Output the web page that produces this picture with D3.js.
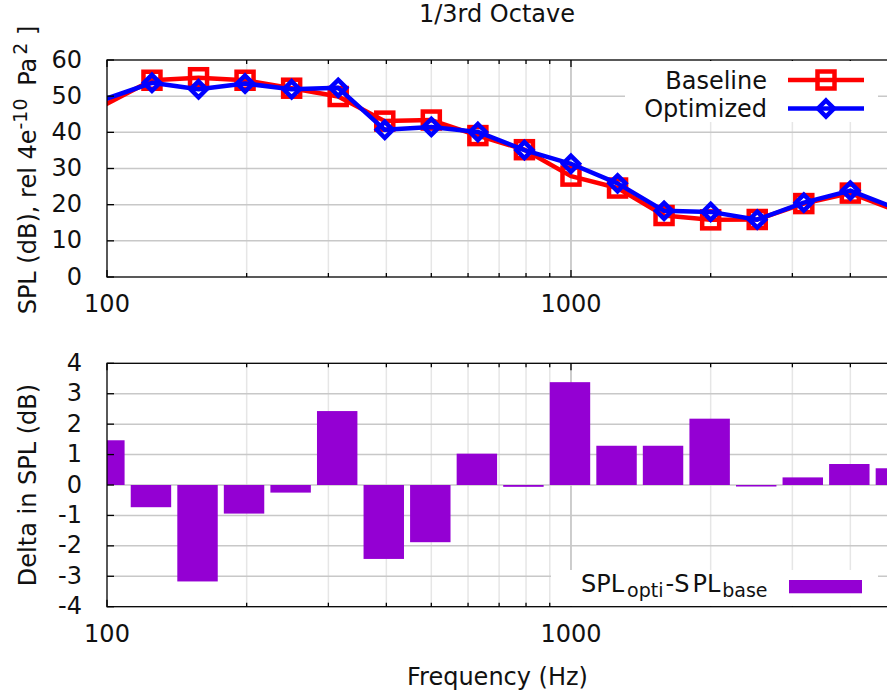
<!DOCTYPE html>
<html>
<head>
<meta charset="utf-8">
<script src="https://cdn.jsdelivr.net/npm/d3@7"></script>
<style>
  html, body { margin: 0; padding: 0; background: #fff; }
  svg { display: block; font-family: "DejaVu Sans", sans-serif; }
</style>
</head>
<body>
<svg id="chart" width="887" height="694"></svg>
<script>
// 1/3-octave band centre frequencies (Hz)
const bandCentres = [99.2, 125, 157.5, 198.4, 250, 315, 396.9, 500, 630, 793.7,
                     1000, 1260, 1587, 2000, 2520, 3175, 4000, 5040];
// Band SPL (dB) for the two configurations
const splBaseline  = [47.7, 54.4, 55.1, 54.4, 52.2, 49.9, 43.1, 43.4, 39.1, 35.2,
                      27.9, 24.6, 17.0, 15.8, 15.9, 20.3, 23.2, 18.3];
const splOptimized = [49.2, 53.7, 51.9, 53.5, 51.9, 52.3, 40.7, 41.5, 40.1, 35.1,
                      31.3, 25.9, 18.3, 18.0, 15.85, 20.55, 23.9, 18.85];
// Difference optimized - baseline (dB)
const splDelta = [1.47, -0.73, -3.17, -0.94, -0.25, 2.43, -2.43, -1.88, 1.03, -0.06,
                  3.38, 1.29, 1.29, 2.18, -0.05, 0.25, 0.69, 0.55];

const freqLabelTicks = [100, 1000];
const freqMinorTicks = [200, 300, 400, 500, 600, 700, 800, 900, 2000, 3000, 4000];
const splTicks = [0, 10, 20, 30, 40, 50, 60];
const deltaTicks = [-4, -3, -2, -1, 0, 1, 2, 3, 4];

const seriesNames = ["Baseline", "Optimized"];
const seriesColors = ["#ff0000", "#0000ff"];
const barColor = "#9400d3";

const svg = d3.select("#chart");
const FONT = 24, SUB = 19;

const x = d3.scaleLog().domain([100, 5000]).range([107, 895.3]);
const yTop = d3.scaleLinear().domain([0, 60]).range([277, 60]);
const yBot = d3.scaleLinear().domain([-4, 4]).range([606.7, 363.3]);

const x0 = x.range()[0], x1 = x.range()[1];

function panelFrame(g, y, ticks, id) {
  const yTopPx = y.range()[1], yBotPx = y.range()[0];
  // grid
  g.append("g").selectAll("line").data(freqMinorTicks).join("line")
    .attr("x1", d => x(d)).attr("x2", d => x(d))
    .attr("y1", yTopPx).attr("y2", yBotPx)
    .attr("stroke", "#e6e6e6").attr("stroke-width", 1.5);
  g.append("g").selectAll("line").data(freqLabelTicks.filter(d => d > 100)).join("line")
    .attr("x1", d => x(d)).attr("x2", d => x(d))
    .attr("y1", yTopPx).attr("y2", yBotPx)
    .attr("stroke", "#bdbdbd").attr("stroke-width", 1.5);
  g.append("g").selectAll("line").data(ticks.slice(1, -1)).join("line")
    .attr("x1", x0).attr("x2", x1)
    .attr("y1", d => y(d)).attr("y2", d => y(d))
    .attr("stroke", "#c8c8c8").attr("stroke-width", 1.5);
  g.append("clipPath").attr("id", id).append("rect")
    .attr("x", x0).attr("y", yTopPx).attr("width", x1 - x0).attr("height", yBotPx - yTopPx);
}

function panelAxes(g, y, ticks) {
  const yTopPx = y.range()[1], yBotPx = y.range()[0];
  const tk = g.append("g").attr("stroke", "#000").attr("stroke-width", 1.3);
  // y ticks (inward, left)
  tk.selectAll(".yt").data(ticks).join("line")
    .attr("x1", x0).attr("x2", x0 + 7).attr("y1", d => y(d)).attr("y2", d => y(d));
  // x minor ticks bottom & top
  freqMinorTicks.forEach(f => {
    tk.append("line").attr("x1", x(f)).attr("x2", x(f)).attr("y1", yBotPx).attr("y2", yBotPx - 4);
    tk.append("line").attr("x1", x(f)).attr("x2", x(f)).attr("y1", yTopPx).attr("y2", yTopPx + 4);
  });
  freqLabelTicks.forEach(f => {
    tk.append("line").attr("x1", x(f)).attr("x2", x(f)).attr("y1", yBotPx).attr("y2", yBotPx - 7);
    tk.append("line").attr("x1", x(f)).attr("x2", x(f)).attr("y1", yTopPx).attr("y2", yTopPx + 7);
  });
  // border
  g.append("rect").attr("x", x0).attr("y", yTopPx).attr("width", x1 - x0)
    .attr("height", yBotPx - yTopPx).attr("fill", "none")
    .attr("stroke", "#000").attr("stroke-width", 1.3);
  // tick labels
  g.append("g").selectAll("text").data(ticks).join("text")
    .attr("x", 82).attr("y", d => y(d) + 7.5)
    .attr("text-anchor", "end").attr("font-size", FONT).attr("fill", "#111")
    .text(d => d);
  g.append("g").selectAll("text").data(freqLabelTicks).join("text")
    .attr("x", d => x(d)).attr("y", yBotPx + 35)
    .attr("text-anchor", "middle").attr("font-size", FONT).attr("fill", "#111")
    .text(d => d);
}

function marker(sel, kind, color) {
  if (kind === 0) {
    sel.append("rect").attr("x", -8.5).attr("y", -8.5).attr("width", 17).attr("height", 17)
      .attr("fill", "none").attr("stroke", color).attr("stroke-width", 4.5);
  } else {
    sel.append("path").attr("d", "M0,-8L8,0L0,8L-8,0Z")
      .attr("fill", "none").attr("stroke", color).attr("stroke-width", 4.5)
      .attr("stroke-linejoin", "miter");
  }
}

// ---------- upper panel: band SPL ----------
const upper = svg.append("g");
panelFrame(upper, yTop, splTicks, "clipTop");
const seriesData = [splBaseline, splOptimized].map(vals =>
  bandCentres.map((f, i) => ({ f, v: vals[i] })));
const line = d3.line().x(d => x(d.f)).y(d => yTop(d.v));
const plotTop = upper.append("g").attr("clip-path", "url(#clipTop)");
seriesData.forEach((pts, k) => {
  plotTop.append("path").datum(pts).attr("d", line)
    .attr("fill", "none").attr("stroke", seriesColors[k]).attr("stroke-width", 4.5)
    .attr("stroke-linejoin", "round");
  plotTop.append("g").selectAll("g")
    .data(pts.filter(d => d.f >= 100 && d.f <= 5000)).join("g")
    .attr("transform", d => `translate(${x(d.f)},${yTop(d.v)})`)
    .each(function () { marker(d3.select(this), k, seriesColors[k]); });
});
panelAxes(upper, yTop, splTicks);

// legend (opaque)
const legTop = upper.append("g");
legTop.append("rect").attr("x", 625).attr("y", 61).attr("width", 253).attr("height", 61).attr("fill", "#fff");
seriesNames.forEach((name, k) => {
  const cy = 80 + k * 28.5;
  legTop.append("text").attr("x", 767).attr("y", cy + 8.5).attr("text-anchor", "end")
    .attr("font-size", FONT).attr("fill", "#111").text(name);
  legTop.append("line").attr("x1", 788).attr("x2", 864).attr("y1", cy).attr("y2", cy)
    .attr("stroke", seriesColors[k]).attr("stroke-width", 4.5);
  const m = legTop.append("g").attr("transform", `translate(826,${cy})`);
  marker(m, k, seriesColors[k]);
});

// title
svg.append("text").attr("x", 497).attr("y", 22).attr("text-anchor", "middle")
  .attr("font-size", FONT).attr("fill", "#111").text("1/3rd Octave");

// y label (upper)
const yl1 = svg.append("text").attr("transform", "translate(36,170) rotate(-90)")
  .attr("text-anchor", "middle").attr("font-size", FONT).attr("fill", "#111");
yl1.append("tspan").text("SPL (dB), rel 4e");
yl1.append("tspan").attr("font-size", SUB).attr("dy", -9).text("-10");
yl1.append("tspan").attr("dy", 9).attr("dx", 5).text(" Pa");
yl1.append("tspan").attr("font-size", SUB).attr("dy", -9).attr("dx", 3).text("2");
yl1.append("tspan").attr("dy", 9).text(" ]");

// ---------- lower panel: delta ----------
const lower = svg.append("g");
panelFrame(lower, yBot, deltaTicks, "clipBot");
lower.append("g").attr("clip-path", "url(#clipBot)")
  .selectAll("rect").data(bandCentres.map((f, i) => ({ f, v: splDelta[i] }))).join("rect")
  .attr("x", d => x(d.f * 0.9))
  .attr("width", d => x(d.f * 1.1) - x(d.f * 0.9))
  .attr("y", d => Math.min(yBot(d.v), yBot(0)))
  .attr("height", d => Math.abs(yBot(d.v) - yBot(0)))
  .attr("fill", barColor);
panelAxes(lower, yBot, deltaTicks);

const legBot = lower.append("g");
legBot.append("rect").attr("x", 551).attr("y", 570).attr("width", 327).attr("height", 36).attr("fill", "#fff");
const lt = legBot.append("text").attr("x", 581).attr("y", 592.3)
  .attr("font-size", FONT).attr("fill", "#111");
lt.append("tspan").text("SPL");
lt.append("tspan").attr("font-size", SUB).attr("dy", 5).attr("dx", 3).text("opti");
lt.append("tspan").attr("dy", -5).attr("dx", 2).text("-S");
lt.append("tspan").attr("dx", 3).text("PL");
lt.append("tspan").attr("font-size", SUB).attr("dy", 5).attr("dx", 2).text("base");
legBot.append("rect").attr("x", 789).attr("y", 580).attr("width", 73).attr("height", 13.3)
  .attr("fill", barColor);

// y label (lower)
svg.append("text").attr("transform", "translate(36,485) rotate(-90)")
  .attr("text-anchor", "middle").attr("font-size", FONT).attr("fill", "#111")
  .text("Delta in SPL (dB)");

// x label
svg.append("text").attr("x", 497.5).attr("y", 685).attr("text-anchor", "middle")
  .attr("font-size", FONT).attr("fill", "#111").text("Frequency (Hz)");
</script>
</body>
</html>
